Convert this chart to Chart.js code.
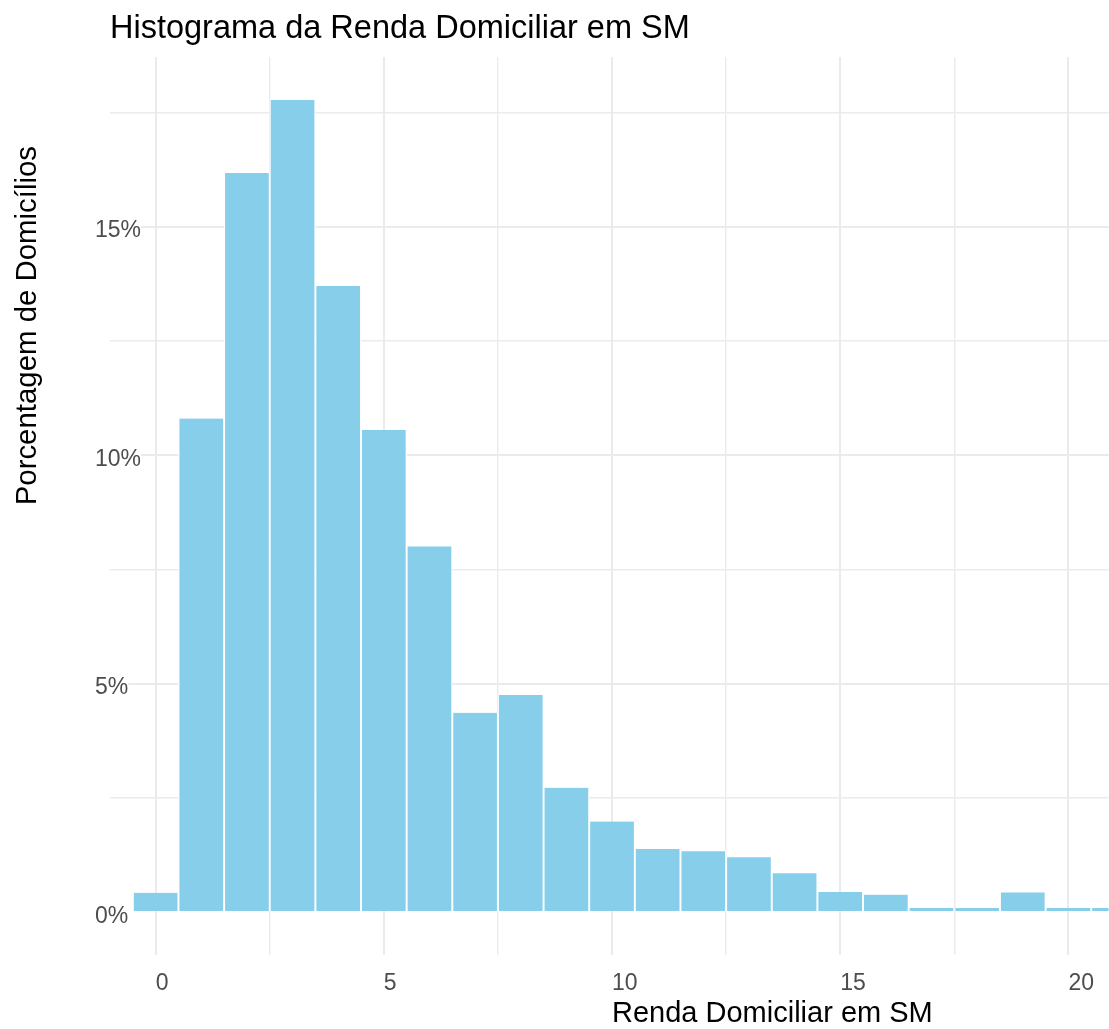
<!DOCTYPE html>
<html>
<head>
<meta charset="utf-8">
<script src="https://cdn.jsdelivr.net/npm/chart.js@4.4.1/dist/chart.umd.min.js"></script>
<style>
  body { margin: 0; background: #ffffff; overflow: hidden; }
  canvas { display: block; }
</style>
</head>
<body>
<canvas id="hist" width="1109" height="1029"></canvas>
<script>
// centre de chaque classe (largeur 1 SM)
const bins = [0, 1, 2, 3, 4, 5, 6, 7, 8, 9, 10, 11, 12, 13, 14, 15, 16, 17, 18, 19, 20, 21]
// pourcentage de domicilios par classe
const pct = [0.42, 10.80, 16.17, 17.77, 13.70, 10.55, 8.00, 4.36, 4.75, 2.72, 1.98,
             1.38, 1.33, 1.20, 0.85, 0.44, 0.38, 0.09, 0.09, 0.43, 0.09, 0.09]
const xTicks = [0, 5, 10, 15, 20]
const yTicks = [0, 5, 10, 15]

const titulo = 'Histograma da Renda Domiciliar em SM'
const tituloX = 'Renda Domiciliar em SM'
const tituloY = 'Porcentagem de Domicílios'

const fonte = '"Liberation Sans", Arial, Helvetica, sans-serif'

// titres dessinés à la main (alignés à gauche comme dans ggplot avec hjust = 0)
const titresPlugin = {
  id: 'titres',
  afterDraw(chart) {
    const ctx = chart.ctx
    const area = chart.chartArea
    ctx.save()
    ctx.fillStyle = '#000000'
    ctx.textAlign = 'left'
    ctx.textBaseline = 'alphabetic'
    ctx.font = '32.5px ' + fonte
    ctx.fillText(titulo, area.left, 38)
    ctx.font = '29px ' + fonte
    ctx.fillText(tituloX, chart.scales.x.getPixelForValue(10), 1022)
    ctx.font = '29.4px ' + fonte
    ctx.translate(36, chart.scales.y.getPixelForValue(8.9))
    ctx.rotate(-Math.PI / 2)
    ctx.fillText(tituloY, 0, 0)
    ctx.restore()
  }
}

const largeur = (c) => (c.tick && c.tick.value % 5 === 0 ? 2 : 1.4)

new Chart(document.getElementById('hist'), {
  type: 'bar',
  data: {
    datasets: [{
      data: bins.map((b, i) => ({ x: b, y: pct[i] })),
      backgroundColor: '#87ceeb',
      borderColor: '#ffffff',
      borderWidth: { left: 1.3, right: 1.3, top: 0, bottom: 0 },
      borderSkipped: false,
      barPercentage: 1,
      categoryPercentage: 1,
      clip: 0
    }]
  },
  options: {
    responsive: false,
    animation: false,
    devicePixelRatio: 1,
    layout: { padding: { top: 57, left: 96, right: 0, bottom: 0 } },
    plugins: {
      legend: { display: false },
      tooltip: { enabled: false },
      title: { display: false }
    },
    scales: {
      x: {
        type: 'linear',
        offset: false,
        min: -1,
        max: 20.88,
        border: { display: false },
        grid: { color: '#ebebeb', lineWidth: largeur, drawTicks: false, offset: false },
        afterFit: (s) => { s.height = 74 },
        ticks: {
          stepSize: 2.5,
          includeBounds: false,
          autoSkip: false,
          maxRotation: 0,
          align: 'start',
          padding: 15,
          color: '#4d4d4d',
          font: { family: fonte, size: 23 },
          callback: (v) => (xTicks.includes(v) ? String(v) : '')
        }
      },
      y: {
        min: -0.94,
        max: 18.71,
        border: { display: false },
        grid: {
          // la ligne du 0 % est cachée sous les barres
          color: (c) => (c.tick && c.tick.value === 0 ? 'rgba(0,0,0,0)' : '#ebebeb'),
          lineWidth: largeur,
          drawTicks: false
        },
        afterFit: (s) => { s.width = 14 },
        ticks: {
          stepSize: 2.5,
          includeBounds: false,
          mirror: true,
          padding: -15,
          labelOffset: 4.5,
          showLabelBackdrop: true,
          backdropColor: '#ffffff',
          backdropPadding: 0,
          color: '#4d4d4d',
          font: { family: fonte, size: 23 },
          callback: (v) => (yTicks.includes(v) ? v + '%' : '')
        }
      }
    }
  },
  plugins: [titresPlugin]
})
</script>
</body>
</html>
